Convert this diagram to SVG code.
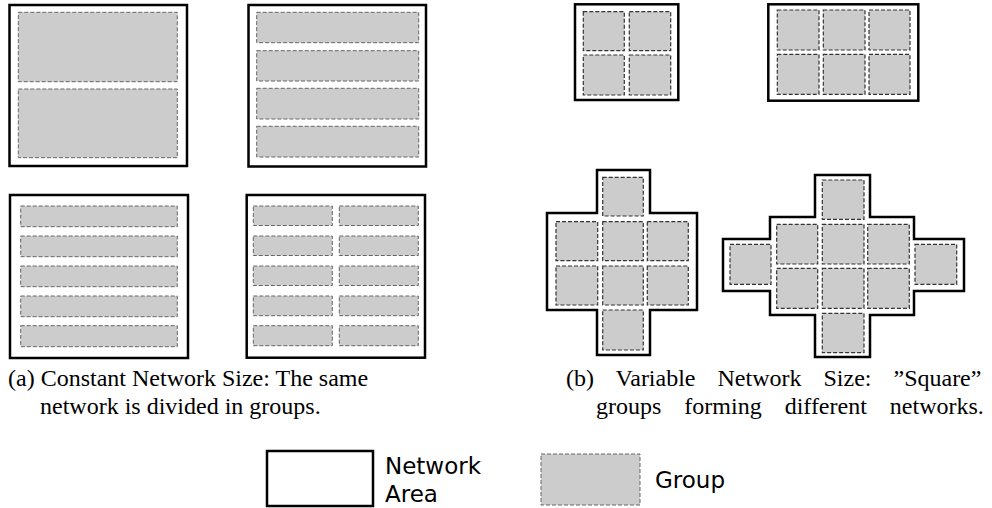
<svg xmlns="http://www.w3.org/2000/svg" width="992" height="508" viewBox="0 0 992 508">
<style>
.net{fill:#fff;stroke:#000;stroke-width:2.5;stroke-linejoin:miter}
.grp{fill:#cccccc;stroke:#666;stroke-width:1;stroke-dasharray:4 2}
.grpb{fill:#cccccc;stroke:#333;stroke-width:1.2;stroke-dasharray:4 2}
.cap{font-family:"Liberation Serif","DejaVu Serif",serif;font-size:24px;fill:#000}
.leg{font-family:"DejaVu Sans",sans-serif;font-size:23px;fill:#000}
</style>
<rect width="992" height="508" fill="#fff"/>
<g id="net-a1">
<rect class="net" x="9.5" y="5" width="177.5" height="161"/>
<rect class="grp" x="18.3" y="12.3" width="159" height="69.4"/>
<rect class="grp" x="18.3" y="89" width="159" height="68.7"/>
</g>
<g id="net-a2">
<rect class="net" x="248.5" y="5" width="177.5" height="161.5"/>
<rect class="grp" x="256.7" y="12.3" width="162" height="30.4"/>
<rect class="grp" x="256.7" y="50.7" width="162" height="30.3"/>
<rect class="grp" x="256.7" y="88.3" width="162" height="30.7"/>
<rect class="grp" x="256.7" y="126.3" width="162" height="30.7"/>
</g>
<g id="net-a3">
<rect class="net" x="10" y="195" width="178" height="163"/>
<rect class="grp" x="20.7" y="206" width="156.6" height="20.7"/>
<rect class="grp" x="20.7" y="236" width="156.6" height="20.7"/>
<rect class="grp" x="20.7" y="266" width="156.6" height="20.7"/>
<rect class="grp" x="20.7" y="296" width="156.6" height="20.7"/>
<rect class="grp" x="20.7" y="325.7" width="156.6" height="21"/>
</g>
<g id="net-a4">
<rect class="net" x="246.7" y="195" width="178.3" height="162.7"/>
<rect class="grp" x="253.3" y="206" width="79" height="19.5"/>
<rect class="grp" x="339.3" y="206" width="79" height="19.5"/>
<rect class="grp" x="253.3" y="236" width="79" height="19.5"/>
<rect class="grp" x="339.3" y="236" width="79" height="19.5"/>
<rect class="grp" x="253.3" y="266" width="79" height="19.5"/>
<rect class="grp" x="339.3" y="266" width="79" height="19.5"/>
<rect class="grp" x="253.3" y="296" width="79" height="19.7"/>
<rect class="grp" x="339.3" y="296" width="79" height="19.7"/>
<rect class="grp" x="253.3" y="325.7" width="79" height="20"/>
<rect class="grp" x="339.3" y="325.7" width="79" height="20"/>
</g>
<g id="net-b1">
<rect class="net" x="575" y="4.3" width="103.3" height="95.7"/>
<rect class="grpb" x="583.3" y="11.7" width="41" height="39"/>
<rect class="grpb" x="629.3" y="11.7" width="41.4" height="39"/>
<rect class="grpb" x="583.3" y="55" width="41" height="40"/>
<rect class="grpb" x="629.3" y="55" width="41.4" height="40"/>
</g>
<g id="net-b2">
<rect class="net" x="768.3" y="4.3" width="150" height="96.4"/>
<rect class="grpb" x="777.3" y="10" width="41.7" height="40"/>
<rect class="grpb" x="823.3" y="10" width="41.7" height="40"/>
<rect class="grpb" x="869" y="10" width="41" height="40"/>
<rect class="grpb" x="777.3" y="54.3" width="41.7" height="40"/>
<rect class="grpb" x="823.3" y="54.3" width="41.7" height="40"/>
<rect class="grpb" x="869" y="54.3" width="41" height="40"/>
</g>
<g id="net-b3">
<polygon class="net" points="597,170 650,170 650,213 697,213 697,310 650,310 650,355 597,355 597,310 547,310 547,213 597,213"/>
<rect class="grpb" x="602.7" y="177.3" width="40.6" height="38.7"/>
<rect class="grpb" x="556" y="221.7" width="41.7" height="39"/>
<rect class="grpb" x="602.7" y="221.7" width="40.6" height="39"/>
<rect class="grpb" x="647.3" y="221.7" width="41" height="39"/>
<rect class="grpb" x="556" y="266" width="41.7" height="39"/>
<rect class="grpb" x="602.7" y="266" width="40.6" height="39"/>
<rect class="grpb" x="647.3" y="266" width="41" height="39"/>
<rect class="grpb" x="602.7" y="310" width="40.6" height="40"/>
</g>
<g id="net-b4">
<polygon class="net" points="815,175 870,175 870,217 914,217 914,239 964,239 964,291 914,291 914,315 870,315 870,357 815,357 815,315 770,315 770,291 723,291 723,239 770,239 770,217 815,217"/>
<rect class="grpb" x="822.3" y="180" width="41.7" height="39.3"/>
<rect class="grpb" x="776.7" y="224.3" width="41" height="39.7"/>
<rect class="grpb" x="822.3" y="224.3" width="41.7" height="39.7"/>
<rect class="grpb" x="867.7" y="224.3" width="41.6" height="39.7"/>
<rect class="grpb" x="730" y="244.3" width="41" height="40"/>
<rect class="grpb" x="915" y="244.3" width="41.7" height="40"/>
<rect class="grpb" x="776.7" y="268.3" width="41" height="40"/>
<rect class="grpb" x="822.3" y="268.3" width="41.7" height="40"/>
<rect class="grpb" x="867.7" y="268.3" width="41.6" height="40"/>
<rect class="grpb" x="822.3" y="313.3" width="41.7" height="39.4"/>
</g>
<g id="caption-a">
<text class="cap" x="8" y="386">(a) Constant Network Size: The same</text>
<text class="cap" x="40" y="414">network is divided in groups.</text>
</g>
<g id="caption-b">
<text class="cap" x="566" y="386" word-spacing="16">(b) Variable Network Size: ”Square”</text>
<text class="cap" x="596" y="414" word-spacing="17">groups forming different networks.</text>
</g>
<g id="legend-network">
<rect class="net" x="267" y="451" width="106" height="55" stroke-width="2"/>
<text class="leg" x="385" y="474">Network</text>
<text class="leg" x="385" y="502">Area</text>
</g>
<g id="legend-group">
<rect class="grp" x="541" y="454" width="99" height="51"/>
<text class="leg" x="655" y="488">Group</text>
</g>
</svg>
